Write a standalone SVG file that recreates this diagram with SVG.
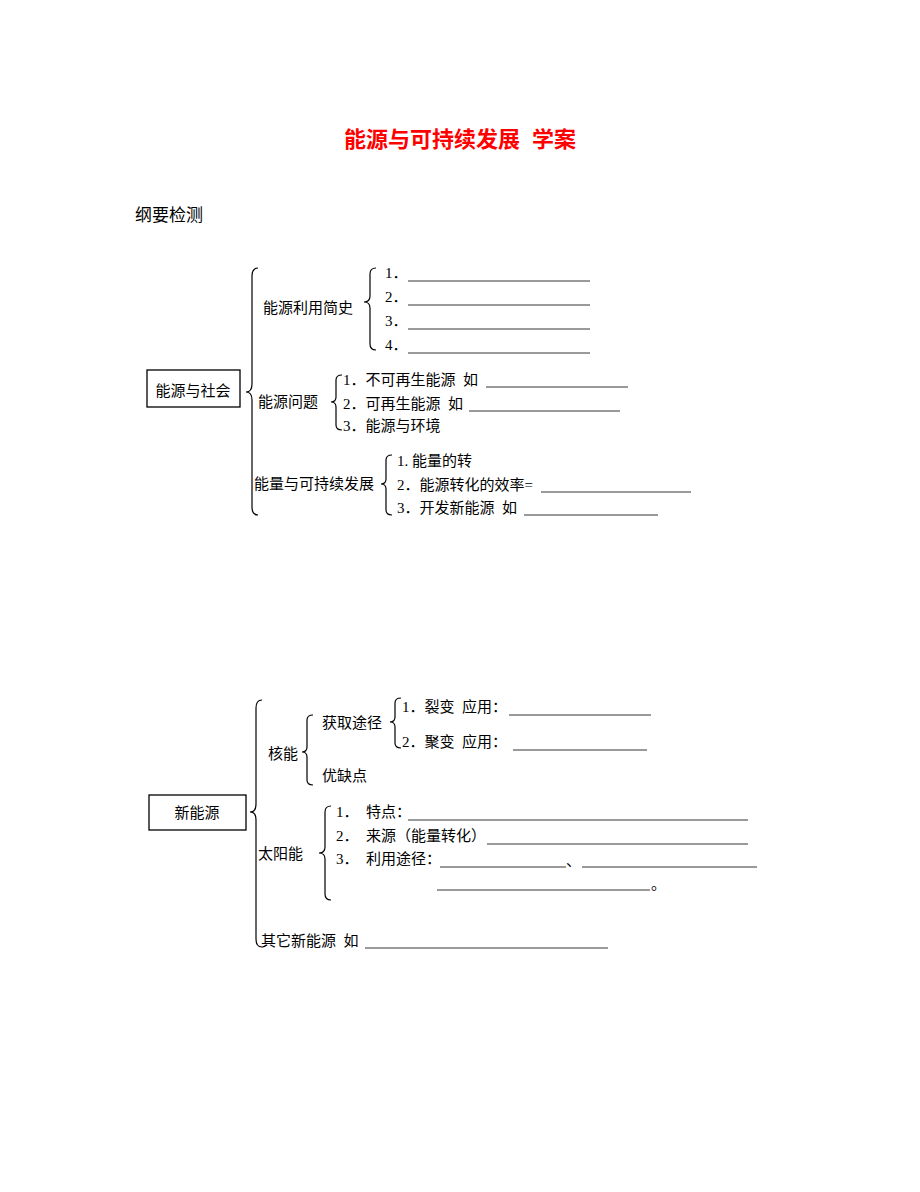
<svg xmlns="http://www.w3.org/2000/svg" width="920" height="1192" viewBox="0 0 920 1192">
<style>
text{font-family:"Liberation Serif","Noto Sans CJK SC",serif;font-size:15px;fill:#000;white-space:pre}
.title{font-family:"Liberation Sans","Noto Sans CJK SC",sans-serif;font-size:22px;font-weight:bold;fill:#f00}
.h{font-size:17px}
.box{fill:#fff;stroke:#000;stroke-width:1.3}
.br{fill:none;stroke:#000;stroke-width:1.2}
.ul{stroke:#000;stroke-width:0.8}
</style>
<rect width="920" height="1192" fill="#fff"/>
<text class="title" x="460" y="147" text-anchor="middle" xml:space="preserve">能源与可持续发展  学案</text>
<text class="h" x="135" y="221">纲要检测</text>

<g id="n-society"><rect class="box" x="147" y="370" width="93" height="37"/><text x="193" y="396" text-anchor="middle">能源与社会</text></g>
<g id="n-history"><text x="263" y="313">能源利用简史</text>
<text x="385" y="278">1．</text><text x="385" y="302">2．</text><text x="385" y="326">3．</text><text x="385" y="350">4．</text></g>
<g id="n-problem"><text x="258" y="407">能源问题</text>
<text x="343" y="385" xml:space="preserve">1．不可再生能源  如</text><text x="343" y="409" xml:space="preserve">2．可再生能源  如</text><text x="343" y="431">3．能源与环境</text></g>
<g id="n-sustain"><text x="254" y="489">能量与可持续发展</text>
<text x="397" y="466">1. 能量的转</text><text x="397" y="490">2．能源转化的效率=</text><text x="397" y="513" xml:space="preserve">3．开发新能源  如</text></g>

<g id="n-new"><rect class="box" x="149" y="795" width="97" height="35"/><text x="197" y="818" text-anchor="middle">新能源</text></g>
<g id="n-nuclear"><text x="268" y="759">核能</text>
<text x="322" y="728">获取途径</text>
<text x="402" y="712" xml:space="preserve">1．裂变  应用：</text><text x="402" y="747" xml:space="preserve">2．聚变  应用：</text>
<text x="322" y="781">优缺点</text></g>
<g id="n-solar"><text x="258" y="859">太阳能</text>
<text x="336" y="817" xml:space="preserve">1．  特点：</text><text x="336" y="841" xml:space="preserve">2．  来源（能量转化）</text><text x="336" y="864" xml:space="preserve">3．  利用途径：</text>
<text x="566" y="866">、</text><text x="651" y="889">。</text></g>
<g id="n-other"><text x="261" y="946" xml:space="preserve">其它新能源  如</text></g>

<g id="connectors">
<path class="br" d="M258,268 Q252,268 252,276 L252,384 Q252,392 246,392 Q252,392 252,400 L252,507 Q252,515 258,515"/>
<path class="br" d="M376,268 Q370,268 370,274 L370,296 Q370,302 364,302 Q370,302 370,308 L370,344 Q370,350 376,350"/>
<path class="br" d="M342,375 Q336,375 336,380 L336,397 Q336,402 331,402 Q336,402 336,407 L336,425 Q336,430 342,430"/>
<path class="br" d="M392,455 Q386,455 386,460 L386,479 Q386,484 381,484 Q386,484 386,489 L386,510 Q386,515 392,515"/>
<path class="br" d="M262,700 Q256,700 256,708 L256,804 Q256,812 250,812 Q256,812 256,820 L256,939 Q256,947 262,947"/>
<path class="br" d="M313,715 Q307,715 307,720 L307,747 Q307,752 302,752 Q307,752 307,757 L307,780 Q307,785 313,785"/>
<path class="br" d="M401,698 Q395,698 395,703 L395,717 Q395,722 390,722 Q395,722 395,727 L395,743 Q395,748 401,748"/>
<path class="br" d="M331,806 Q325,806 325,812 L325,847 Q325,853 319,853 Q325,853 325,859 L325,894 Q325,900 331,900"/>
<line class="ul" x1="408" y1="281" x2="590" y2="281"/>
<line class="ul" x1="408" y1="305" x2="590" y2="305"/>
<line class="ul" x1="408" y1="329" x2="590" y2="329"/>
<line class="ul" x1="408" y1="353" x2="590" y2="353"/>
<line class="ul" x1="486" y1="387" x2="628" y2="387"/>
<line class="ul" x1="469" y1="411" x2="620" y2="411"/>
<line class="ul" x1="541" y1="492" x2="691" y2="492"/>
<line class="ul" x1="524" y1="515" x2="658" y2="515"/>
<line class="ul" x1="509" y1="715" x2="651" y2="715"/>
<line class="ul" x1="513" y1="750" x2="647" y2="750"/>
<line class="ul" x1="408" y1="820" x2="748" y2="820"/>
<line class="ul" x1="487" y1="844" x2="748" y2="844"/>
<line class="ul" x1="440" y1="867" x2="566" y2="867"/>
<line class="ul" x1="582" y1="867" x2="757" y2="867"/>
<line class="ul" x1="437" y1="890" x2="650" y2="890"/>
<line class="ul" x1="365" y1="948" x2="608" y2="948"/>
</g>
</svg>
